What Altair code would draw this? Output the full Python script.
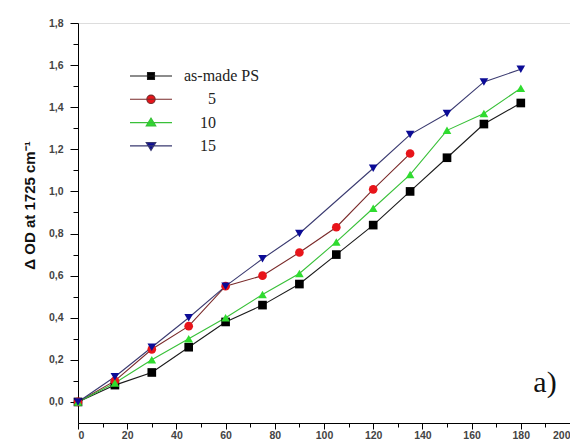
import altair as alt
import pandas as pd

# ---- data ----
# legend labels: a zero-width space keeps the no-break spaces from being trimmed
series_names = ["as-made PS", "\u200b\u00a0\u00a0\u00a0\u00a0\u00a0\u00a05",
                "\u200b\u00a0\u00a0\u00a0\u00a010", "\u200b\u00a0\u00a0\u00a0\u00a015"]
x_vals = [0, 15, 30, 45, 60, 75, 90, 105, 120, 135, 150, 165, 180]
y_asmade = [0.00, 0.08, 0.14, 0.26, 0.38, 0.46, 0.56, 0.70, 0.84, 1.00, 1.16, 1.32, 1.42]
y_5 = [0.00, 0.10, 0.25, 0.36, 0.55, 0.60, 0.71, 0.83, 1.01, 1.18, None, None, None]
y_10 = [0.00, 0.09, 0.20, 0.30, 0.40, 0.51, 0.61, 0.76, 0.92, 1.08, 1.29, 1.37, 1.49]
y_15 = [0.00, 0.12, 0.26, 0.40, 0.55, 0.68, 0.80, None, 1.11, 1.27, 1.37, 1.52, 1.58]

marker_colors = ["#000000", "#e8141a", "#2fdc2f", "#0c0c96"]
line_colors = ["#1a1a1a", "#7a2a2a", "#38c038", "#3a3a70"]
marker_shapes = ["square", "circle", "triangle-up", "triangle-down"]
# legend glyphs: a short line with the marker in its middle
legend_glyphs = [
    "M-2.1,0H2.1M-0.35,-0.35H0.35V0.35H-0.35Z",
    "M-2.1,0H2.1M0.42,0A0.42,0.42,0,1,1,-0.42,0A0.42,0.42,0,1,1,0.42,0Z",
    "M-2.1,0H2.1M0,-0.45L0.48,0.33L-0.48,0.33Z",
    "M-2.1,0H2.1M0,0.45L0.48,-0.33L-0.48,-0.33Z",
]

x_major = [0, 20, 40, 60, 80, 100, 120, 140, 160, 180, 200]
x_minor = [10, 30, 50, 70, 90, 110, 130, 150, 170, 190]
y_major = [0.0, 0.2, 0.4, 0.6, 0.8, 1.0, 1.2, 1.4, 1.6, 1.8]
y_minor = [0.1, 0.3, 0.5, 0.7, 0.9, 1.1, 1.3, 1.5, 1.7]

rows = []
for name, ys in zip(series_names, [y_asmade, y_5, y_10, y_15]):
    for xv, yv in zip(x_vals, ys):
        if yv is not None:
            rows.append({"time": xv, "od": yv, "series": name})
df = pd.DataFrame(rows)

xscale = alt.Scale(domain=[0, 200], nice=False, zero=False)
yscale = alt.Scale(domain=[-0.1, 1.8], nice=False, zero=False)
label_expr = "replace(format(datum.value, '.1f'), '.', ',')"

tick_font = dict(labelFont="Liberation Sans", labelFontSize=10.5, labelFontWeight="bold",
                 labelColor="#444444", tickColor="#000000", domainColor="#000000")

x_axis_major = alt.Axis(values=x_major, tickSize=6, labelPadding=1, grid=False,
                        title=None, orient="bottom", **tick_font)
y_axis_major = alt.Axis(values=y_major, tickSize=8, labelPadding=7, grid=False,
                        labelExpr=label_expr, orient="left",
                        title="Δ OD at 1725 cm⁻¹", titleFont="Liberation Sans",
                        titleFontSize=15, titleFontWeight="bold", titlePadding=11,
                        titleY=182, titleColor="#111111", **tick_font)
x_axis_minor = alt.Axis(values=x_minor, tickSize=4, labels=False, domain=False,
                        grid=False, title=None, orient="bottom", tickColor="#000000")
y_axis_minor = alt.Axis(values=y_minor, tickSize=5, labels=False, domain=False,
                        grid=False, title=None, orient="left", tickColor="#000000")

base = alt.Chart(df)

lines = base.mark_line(strokeWidth=1.1).encode(
    x=alt.X("time:Q", scale=xscale, axis=x_axis_minor),
    y=alt.Y("od:Q", scale=yscale, axis=y_axis_minor),
    color=alt.Color("series:N", scale=alt.Scale(domain=series_names, range=line_colors), legend=None),
    detail="series:N",
)

points = base.mark_point(filled=True, size=75, opacity=1, strokeWidth=0).encode(
    x=alt.X("time:Q", scale=xscale, axis=x_axis_major),
    y=alt.Y("od:Q", scale=yscale, axis=y_axis_major),
    fill=alt.Fill("series:N", scale=alt.Scale(domain=series_names, range=marker_colors), legend=None),
    shape=alt.Shape("series:N", scale=alt.Scale(domain=series_names, range=marker_shapes), legend=None),
)

leg = alt.Legend(title=None, orient="none", legendX=62, legendY=42, padding=0,
                 symbolSize=400, symbolStrokeWidth=1.1, rowPadding=4.3,
                 labelFont="Liberation Serif", labelFontSize=16, labelColor="#222222",
                 labelOffset=22)

legend_layer = base.mark_point(filled=False, opacity=1).encode(
    x=alt.X("time:Q", scale=xscale, axis=None),
    y=alt.Y("od:Q", scale=yscale, axis=None),
    shape=alt.Shape("series:N", scale=alt.Scale(domain=series_names, range=legend_glyphs), legend=leg),
    fill=alt.Fill("series:N", scale=alt.Scale(domain=series_names, range=marker_colors), legend=leg),
    stroke=alt.Stroke("series:N", scale=alt.Scale(domain=series_names, range=line_colors), legend=leg),
).transform_filter("false")

label_a = alt.Chart(pd.DataFrame({"t": ["a)"]})).mark_text(
    font="Liberation Serif", fontSize=30, color="#111111", align="center", baseline="middle"
).encode(text="t:N", x=alt.value(467), y=alt.value(360))

chart = alt.layer(lines, points, legend_layer, label_a).resolve_scale(
    color="independent", fill="independent", shape="independent", stroke="independent"
).resolve_axis(x="independent", y="independent").properties(
    width=492, height=400,
    autosize=alt.AutoSizeParams(type="none"),
    padding={"left": 70, "top": 15, "right": 0, "bottom": 17},
).configure_view(stroke=None).configure(background="white")

chart.save("out.html", embed_options={"renderer": "svg", "actions": False})
